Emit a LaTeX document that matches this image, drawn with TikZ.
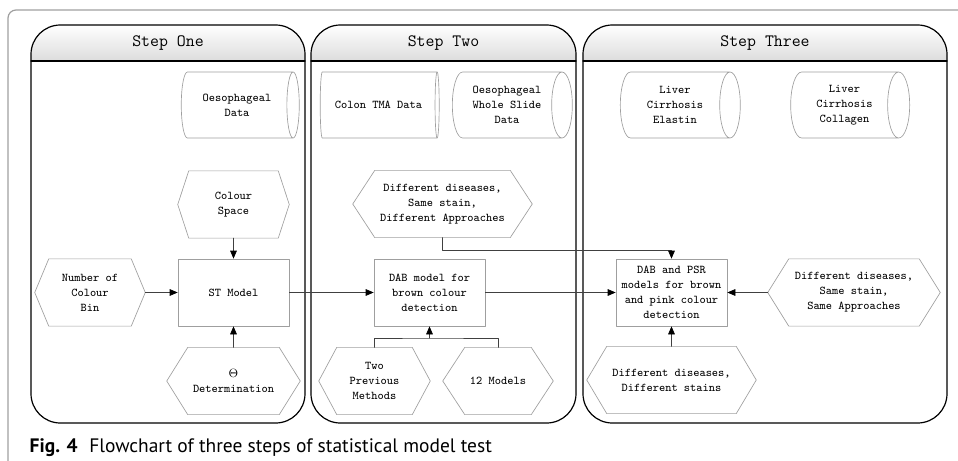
\documentclass[tikz,border=0pt]{standalone}
\usepackage{amsmath}
\usepackage{fontspec}
\usepackage{tikz}
\usetikzlibrary{arrows.meta,shapes.geometric,calc}
\newfontfamily\capfont{PT Sans}

% hexagon round a named (invisible) node: name, inset
\newcommand{\hexline}[2]{%
  \draw[hexedge] (#1.west) -- ($(#1.north west)+(#2,0)$) -- ($(#1.north east)-(#2,0)$)
    -- (#1.east) -- ($(#1.south east)-(#2,0)$) -- ($(#1.south west)+(#2,0)$) -- cycle;}

\begin{document}
\begin{tikzpicture}[line cap=round,line join=round,x=0.75pt,y=-0.75pt,
  font=\ttfamily\fontsize{8.9}{11.3}\selectfont,
  >={Triangle[length=6pt,width=5pt,black]},
  frame/.style={draw=gray!75,line width=0.9pt,rounded corners=6pt},
  panel/.style={draw=black,line width=0.9pt,rounded corners=22pt},
  steptitle/.style={font=\ttfamily\fontsize{13}{15}\selectfont},
  databox/.style={cylinder,draw=gray!75,line width=0.5pt,aspect=0.55,
    minimum height=88.5pt,minimum width=49.5pt,align=center,inner sep=0pt},
  procbox/.style={rectangle,draw=gray!75,line width=0.5pt,
    minimum width=83.25pt,minimum height=50.25pt,align=center,inner sep=0pt},
  hexnode/.style={rectangle,align=center,inner sep=0pt,minimum height=50pt},
  hexedge/.style={draw=gray!75,line width=0.5pt},
  link/.style={draw=black!75,line width=0.5pt},
  arr/.style={link,->}]
\useasboundingbox (0,0) rectangle (958,461);

% outer frame
\draw[frame] (975,10) -- (8,10) -- (8,470) -- (30,470);

% panels
\foreach \xa/\xb/\nm in {31/305/One,311/576/Two,583/947/Three}{
  \begin{scope}
    \clip (\xa,25) rectangle (\xb,61);
    \shade[top color=white,bottom color=gray!55,rounded corners=22pt] (\xa,25) rectangle (\xb,97);
  \end{scope}
  \draw[panel] (\xa,25) rectangle (\xb,423);
  \draw[line width=0.9pt] (\xa,61) -- (\xb,61);
  \node[steptitle] (title\nm) at ({(\xa+\xb)/2},43) {Step \nm};
}

% Step One
\node[databox] (oesData) at (237,105) {Oesophageal\\Data};
\node[hexnode,minimum width=83.25pt] (colSpace) at (233.5,204.5) {Colour\\Space};
\node[procbox] (stModel) at (233.5,292.5) {ST Model};
\node[hexnode,minimum width=82.5pt] (numBin) at (90,292.5) {Number of\\Colour\\Bin};
\node[hexnode,minimum width=99.75pt] (thetaDet) at (233.5,381) {$\Theta$\\Determination};
\hexline{colSpace}{11}
\hexline{numBin}{14}
\hexline{thetaDet}{21}

% Step Two
\node[databox,minimum height=89.25pt] (colonData) at (378.5,105) {Colon TMA Data};
\node[databox,minimum height=90pt] (oesWhole) at (507,105) {Oesophageal\\Whole Slide\\Data};
\node[hexnode,minimum width=134.25pt] (diffApp) at (442.5,204) {Different diseases,\\Same stain,\\Different Approaches};
\node[procbox] (dabModel) at (429.5,292.5) {DAB model for\\brown colour\\detection};
\node[hexnode,minimum width=83.25pt] (twoPrev) at (374.5,381) {Two\\Previous\\Methods};
\node[hexnode,minimum width=82.5pt] (twelve) at (498,381) {12 Models};
\hexline{diffApp}{22}
\hexline{twoPrev}{18}
\hexline{twelve}{22}

% Step Three
\node[databox,minimum height=90pt] (elastin) at (675,105) {Liver\\Cirrhosis\\Elastin};
\node[databox,minimum height=89.25pt] (collagen) at (844.5,105) {Liver\\Cirrhosis\\Collagen};
\node[procbox] (dabPsr) at (671.5,292.5) {DAB and PSR\\models for brown\\and pink colour\\detection};
\node[hexnode,minimum width=129pt] (sameApp) at (854,292.5) {Different diseases,\\Same stain,\\Same Approaches};
\node[hexnode,minimum width=126.75pt] (diffStains) at (671.5,380) {Different diseases,\\Different stains};
\hexline{sameApp}{21}
\hexline{diffStains}{20}

% connectors
\coordinate (join) at (429.5,338);
\coordinate (elbow) at (442.5,250);
\draw[arr] (colSpace.south) -- (stModel.north);
\draw[arr] (numBin.east) -- (stModel.west);
\draw[arr] (thetaDet.north) -- (stModel.south);
\draw[arr] (stModel.east) -- (dabModel.west);
\draw[link] (twoPrev.north) |- (join) -| (twelve.north);
\draw[arr] (join) -- (dabModel.south);
\draw[arr] (diffApp.south) -- (elbow) -| (dabPsr.north);
\draw[arr] (dabModel.east) -- (dabPsr.west);
\draw[arr] (sameApp.west) -- (dabPsr.east);
\draw[arr] (diffStains.north) -- (dabPsr.south);

% caption
\node[anchor=base west,font=\capfont\fontsize{14.6}{17}\selectfont] (caption) at (25,452)
  {\textbf{Fig. 4}\hspace{0.6em}Flowchart of three steps of statistical model test};
\end{tikzpicture}
\end{document}
